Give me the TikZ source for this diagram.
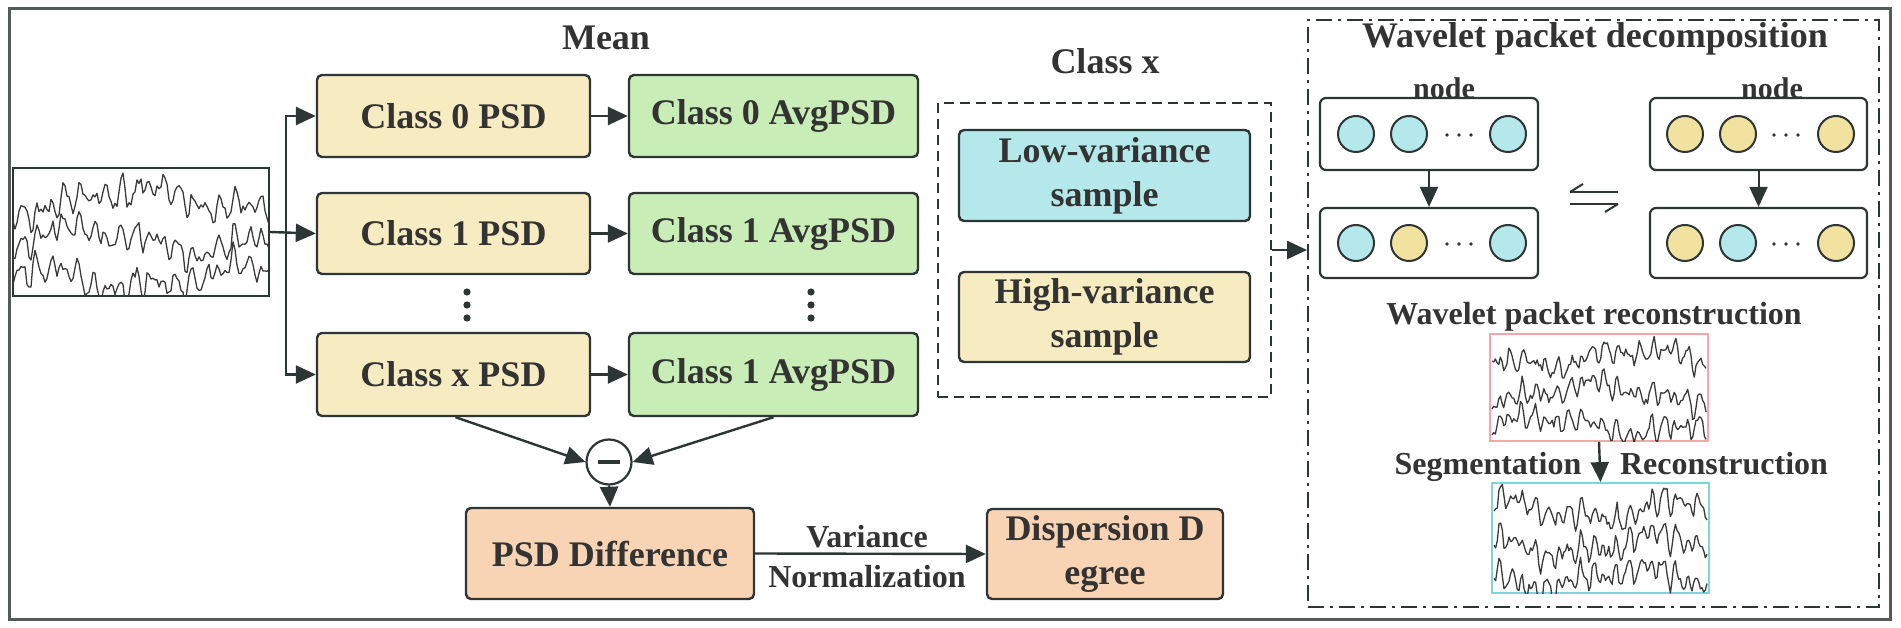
\documentclass[tikz,border=0pt]{standalone}
\usepackage{fontspec}
\setmainfont{Liberation Serif}
\usetikzlibrary{arrows.meta}
\definecolor{bd}{HTML}{2E3535}
\definecolor{txt}{HTML}{333333}
\definecolor{psdy}{HTML}{F7EBC1}
\definecolor{avgg}{HTML}{C9EDB6}
\definecolor{peach}{HTML}{F8D4B4}
\definecolor{cyanf}{HTML}{B4E8EA}
\definecolor{ycirc}{HTML}{F2E29F}
\definecolor{redb}{HTML}{F0A8A8}
\definecolor{cyanb}{HTML}{7ED6D8}
\definecolor{framec}{HTML}{555B5B}
\definecolor{eegc}{HTML}{3A3A3A}
% x0 x1 ybase amp seed ; \x runs over 0..128 sample steps
\newcommand{\eegtrace}[5]{%
  \pgfmathsetseed{#5}%
  \pgfmathsetmacro{\eegstep}{(#2-#1)/128}%
  \draw[eegline] plot[domain=0:128, samples=129] ({#1 + \x*\eegstep}, {#3 + #4*(0.38*sin(51*\x+#5) + 0.3*sin(37*\x+5*#5) + 0.2*sin(83*\x+3*#5) + 0.22*rand + 0.45*sin(3.1*\x+7*#5) + 0.25*sin(8.3*\x+2*#5))});%
}
\begin{document}
\begin{tikzpicture}[x=1pt,y=-1pt,
  lbl/.style={font=\bfseries\fontsize{36}{44}\selectfont, text=txt, inner sep=0pt},
  sml/.style={font=\bfseries\fontsize{32}{38}\selectfont, text=txt, inner sep=0pt},
  tiny/.style={font=\bfseries\fontsize{30}{36}\selectfont, text=txt, inner sep=0pt},
  box/.style={draw=bd, line width=2.4pt, rounded corners=5pt, inner sep=0pt, align=center, font=\bfseries\fontsize{36}{44}\selectfont, text=txt},
  wbox/.style={draw=bd, line width=2.2pt, rounded corners=6pt, inner sep=0pt, fill=white},
  arr/.style={draw=bd, line width=2.4pt, -{Triangle[length=20pt,width=18pt]}},
  circ/.style={circle, draw=bd, line width=2pt, minimum size=36pt, inner sep=0pt},
  eegline/.style={draw=eegc, line width=1.3pt, line join=round},
]
\useasboundingbox (0,0) rectangle (1901,628);
\fill[white] (0,0) rectangle (1901,628);
\draw[draw=framec, line width=3pt] (9,9) rectangle (1890,619);

% ---------- left part ----------
\node[lbl, anchor=base] (mean) at (606,50) {Mean};
\node[draw=bd, line width=2pt, minimum width=256pt, minimum height=128pt, inner sep=0pt] (eeg) at (141,232) {};
\begin{scope}
\clip (13,168) rectangle (269,296);
\eegtrace{13}{269}{200}{22}{11}
\eegtrace{13}{269}{240}{22}{23}
\eegtrace{13}{269}{278}{22}{37}
\end{scope}

\node[box, fill=psdy, minimum width=273pt, minimum height=82pt] (c0) at (453.5,116) {Class 0 PSD};
\node[box, fill=psdy, minimum width=273pt, minimum height=81pt] (c1) at (453.5,233.5) {Class 1 PSD};
\node[box, fill=psdy, minimum width=273pt, minimum height=83pt] (cx) at (453.5,374.5) {Class x PSD};
\node[box, fill=avgg, minimum width=289pt, minimum height=82pt] (a0) at (773.5,116) {Class 0 AvgPSD};
\node[box, fill=avgg, minimum width=289pt, minimum height=81pt] (a1) at (773.5,233.5) {Class 1 AvgPSD};
\node[box, fill=avgg, minimum width=289pt, minimum height=83pt] (a2) at (773.5,374.5) {Class 1 AvgPSD};

\foreach \yy in {292,305,318} {
  \fill[bd] (467,\yy) circle (3.6pt);
  \fill[bd] (811,\yy) circle (3.6pt);
}

\coordinate (br) at (286,233.5);
\draw[arr] (eeg.east) -- (c1.west);
\draw[arr] (br) |- (c0.west);
\draw[arr] (br) |- (cx.west);
\draw[arr] (c0.east) -- (a0.west);
\draw[arr] (c1.east) -- (a1.west);
\draw[arr] (cx.east) -- (a2.west);

\node[circle, draw=bd, line width=2.2pt, minimum size=45pt, inner sep=0pt, fill=white] (m) at (609,462) {\textcolor{bd}{\rule{22pt}{4pt}}};
\draw[arr] ([xshift=2pt]cx.south) -- (m.west);
\draw[arr] (a2.south) -- (m.east);

\node[box, fill=peach, minimum width=288pt, minimum height=91pt] (diff) at (610,553.5) {PSD Difference};
\node[box, fill=peach, minimum width=236pt, minimum height=90pt] (disp) at (1105,554) {Dispersion D\\egree};
\draw[arr] (m.south) -- (diff.north);
\draw[arr] (diff.east) -- (disp.west);
\node[sml, anchor=base] (v1) at (867,547) {Variance};
\node[sml, anchor=base] (v2) at (867,587) {Normalization};

% ---------- class x ----------
\node[lbl, anchor=base] (clt) at (1105,74) {Class x};
\node[draw=bd, line width=2pt, dash pattern=on 10pt off 6pt, minimum width=333pt, minimum height=294pt, inner sep=0pt] (cls) at (1104.5,250) {};
\node[box, fill=cyanf, minimum width=291pt, minimum height=91pt] (low) at (1104.5,175.5) {Low-variance\\sample};
\node[box, fill=psdy, minimum width=291pt, minimum height=90pt] (high) at (1104.5,317) {High-variance\\sample};

% ---------- wavelet ----------
\node[draw=bd, line width=2pt, dash pattern=on 16pt off 6pt on 3pt off 6pt, minimum width=571pt, minimum height=587pt, inner sep=0pt] (wp) at (1593.5,313.5) {};
\draw[arr] (cls.east) -- (cls.east -| wp.west);
\node[lbl, anchor=base] (wpt) at (1595,48) {Wavelet packet decomposition};

\node[wbox, minimum width=218pt, minimum height=72pt] (wl1) at (1429,134) {};
\node[wbox, minimum width=218pt, minimum height=70pt] (wl2) at (1429,243) {};
\node[wbox, minimum width=217pt, minimum height=72pt] (wr1) at (1758.5,134) {};
\node[wbox, minimum width=217pt, minimum height=70pt] (wr2) at (1758.5,243) {};
\node[tiny, anchor=base] (nl) at (1444,99) {node};
\node[tiny, anchor=base] (nr) at (1772,99) {node};

\node[circ, fill=cyanf] (l1a) at (1356,134) {};
\node[circ, fill=cyanf] (l1b) at (1409,134) {};
\node[circ, fill=cyanf] (l1c) at (1508,134) {};
\node[circ, fill=cyanf] (l2a) at (1356,243) {};
\node[circ, fill=ycirc] (l2b) at (1409,243) {};
\node[circ, fill=cyanf] (l2c) at (1508,243) {};
\node[circ, fill=ycirc] (r1a) at (1685,134) {};
\node[circ, fill=ycirc] (r1b) at (1738,134) {};
\node[circ, fill=ycirc] (r1c) at (1836,134) {};
\node[circ, fill=ycirc] (r2a) at (1685,243) {};
\node[circ, fill=cyanf] (r2b) at (1738,243) {};
\node[circ, fill=ycirc] (r2c) at (1836,243) {};
\foreach \cx in {1447,1459,1471} {
  \fill[txt] (\cx,135) circle (1.8pt);
  \fill[txt] (\cx,244) circle (1.8pt);
}
\foreach \cx in {1774,1786,1798} {
  \fill[txt] (\cx,135) circle (1.8pt);
  \fill[txt] (\cx,244) circle (1.8pt);
}
\draw[arr, line width=2pt] (wl1.south) -- (wl2.north);
\draw[arr, line width=2pt] (wr1.south) -- (wr2.north);

% harpoons
\draw[draw=bd, line width=2pt] (1570,192) -- (1618,192);
\draw[draw=bd, line width=2pt] (1570,192) -- (1583,184);
\draw[draw=bd, line width=2pt] (1570,204) -- (1618,204);
\draw[draw=bd, line width=2pt] (1618,204) -- (1605,212);

\node[sml, anchor=base] (wrt) at (1594,325) {Wavelet packet reconstruction};
\node[draw=redb, line width=1.8pt, minimum width=218pt, minimum height=107pt, inner sep=0pt] (rec) at (1599,387.5) {};
\node[draw=cyanb, line width=1.8pt, minimum width=217pt, minimum height=110pt, inner sep=0pt] (seg) at (1600.5,538) {};
\begin{scope}
\clip (1490,334) rectangle (1708,441);
\eegtrace{1492}{1706}{358}{17}{51}
\eegtrace{1492}{1706}{393}{17}{63}
\eegtrace{1492}{1706}{425}{17}{77}
\end{scope}
\begin{scope}
\clip (1492,483) rectangle (1709,593);
\eegtrace{1494}{1707}{510}{20}{89}
\eegtrace{1494}{1707}{545}{20}{97}
\eegtrace{1494}{1707}{578}{20}{103}
\end{scope}
\draw[arr] (rec.south) -- (seg.north);
\node[sml, anchor=base] (sgl) at (1488,474) {Segmentation};
\node[sml, anchor=base] (rcl) at (1724,474) {Reconstruction};
\end{tikzpicture}
\end{document}
